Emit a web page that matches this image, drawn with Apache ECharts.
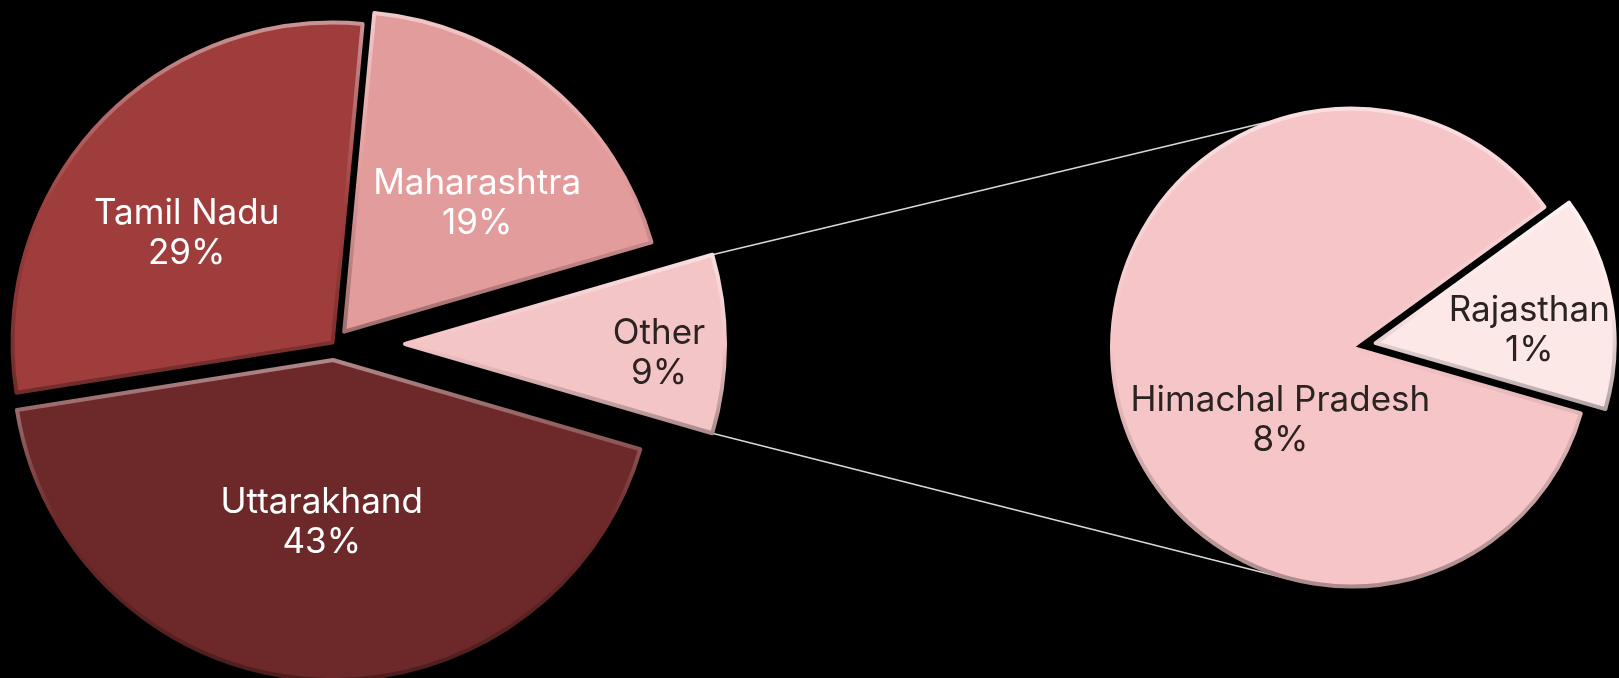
<!DOCTYPE html>
<html>
<head>
<meta charset="utf-8">
<script src="https://cdn.jsdelivr.net/npm/echarts@6/dist/echarts.min.js"></script>
<style>
  html, body { margin: 0; padding: 0; background: #000; }
  #chart { width: 1619px; height: 678px; }
</style>
</head>
<body>
<div id="chart"></div>
<script>
// Share of total by state (main pie)
const mainNames = ['Other', 'Maharashtra', 'Tamil Nadu', 'Uttarakhand'];
const mainValues = [9, 19, 29, 43];
// Breakdown of the "Other" slice (secondary pie), as share of total
const otherNames = ['Rajasthan', 'Himachal Pradesh'];
const otherValues = [1.3, 7.7];

// ---- styling ----
const mainColors = ['#f3c5c6', '#e39c9c', '#9f3d3d', '#6d2929'];
const mainLabelColors = ['#2b2222', '#ffffff', '#ffffff', '#ffffff'];
const mainExplode = [71, 16, 2, 16];
const mainLabelShift = [[91, 9], [29, -3], [-27, 2], [-1, 0]];

const otherColors = ['#fde8e8', '#f5c5c7'];
const otherLabelColors = ['#2b2222', '#2b2222'];
const otherExplode = [22, 3];
const otherLabelShift = [[33, 9], [50, 52]];

const MAIN_C = [334, 344], MAIN_R = 320;
const SUB_C = [1354, 347], SUB_R = 239, SUB_START = -16;
const CONNECT_ANGLES = [111, -106];   // where connector lines meet the secondary pie
const FONT = 'Inter, "Open Sans", sans-serif';
const FONT_SIZE = 35, LINE_HEIGHT = 40;

const grandTotal = mainValues.reduce((a, b) => a + b, 0);
const otherShare = mainValues[0] / grandTotal;
// centre the "Other" slice on the horizontal, facing the secondary pie
const MAIN_START = -otherShare * 180;

function mix(hex, amt) {
  const n = parseInt(hex.slice(1), 16);
  let r = (n >> 16) & 255, g = (n >> 8) & 255, b = n & 255;
  const t = amt > 0 ? 255 : 0, k = Math.abs(amt);
  r = Math.round(r + (t - r) * k); g = Math.round(g + (t - g) * k); b = Math.round(b + (t - b) * k);
  return 'rgb(' + r + ',' + g + ',' + b + ')';
}
// light rim along the upper edges, darker along the lower ones
function bevel(base) {
  return {
    type: 'linear', x: 0, y: 0, x2: 0, y2: 1,
    colorStops: [
      { offset: 0, color: mix(base, 0.45) },
      { offset: 0.5, color: base },
      { offset: 1, color: mix(base, -0.3) }
    ]
  };
}

// one series per slice so every slice can have its own explosion distance
function sliceSeries(names, values, colors, labelColors, explode, shifts, center, r, start, idx) {
  return {
    type: 'pie',
    center: center,
    radius: [0, r],
    startAngle: start,
    clockwise: false,
    selectedMode: 'single',
    selectedOffset: explode[idx],
    avoidLabelOverlap: false,
    silent: true,
    animation: false,
    emphasis: { disabled: true },
    labelLine: { show: false },
    label: { show: false },
    data: names.map((n, i) => ({
      name: n,
      value: values[i],
      selected: i === idx,
      itemStyle: i === idx
        ? { color: colors[i], borderColor: bevel(colors[i]), borderWidth: 4, borderJoin: 'round' }
        : { color: 'rgba(0,0,0,0)', borderWidth: 0 },
      label: i === idx ? {
        show: true,
        position: 'inside',
        formatter: p => p.name + '\n' + Math.round(p.value / grandTotal * 100) + '%',
        color: labelColors[i],
        fontFamily: FONT,
        fontSize: FONT_SIZE,
        lineHeight: LINE_HEIGHT,
        align: 'center'
      } : { show: false }
    })),
    labelLayout: p => (p.dataIndex === idx ? { dx: shifts[idx][0], dy: shifts[idx][1] } : {})
  };
}

const series = [];
mainNames.forEach((_, i) => series.push(
  sliceSeries(mainNames, mainValues, mainColors, mainLabelColors, mainExplode, mainLabelShift, MAIN_C, MAIN_R, MAIN_START, i)));
otherNames.forEach((_, i) => series.push(
  sliceSeries(otherNames, otherValues, otherColors, otherLabelColors, otherExplode, otherLabelShift, SUB_C, SUB_R, SUB_START, i)));

// connector lines from the outer corners of the exploded "Other" slice to the secondary pie
const rad = Math.PI / 180;
const otherMid = MAIN_START + otherShare * 180;
const oc = [MAIN_C[0] + mainExplode[0] * Math.cos(otherMid * rad), MAIN_C[1] - mainExplode[0] * Math.sin(otherMid * rad)];
const cornerAngles = [MAIN_START + otherShare * 360, MAIN_START];
const connectors = cornerAngles.map((a, k) => {
  const p1 = [oc[0] + MAIN_R * Math.cos(a * rad), oc[1] - MAIN_R * Math.sin(a * rad)];
  const b = CONNECT_ANGLES[k];
  const p2 = [SUB_C[0] + (SUB_R + 2) * Math.cos(b * rad), SUB_C[1] - (SUB_R + 2) * Math.sin(b * rad)];
  return {
    type: 'line', silent: true, z: 0,
    shape: { x1: p1[0], y1: p1[1], x2: p2[0], y2: p2[1] },
    style: { stroke: '#d9d9d9', lineWidth: 1.5 }
  };
});

const chart = echarts.init(document.getElementById('chart'), null, { renderer: 'canvas' });
chart.setOption({
  backgroundColor: '#000000',
  animation: false,
  graphic: connectors,
  series: series
});
</script>
</body>
</html>
